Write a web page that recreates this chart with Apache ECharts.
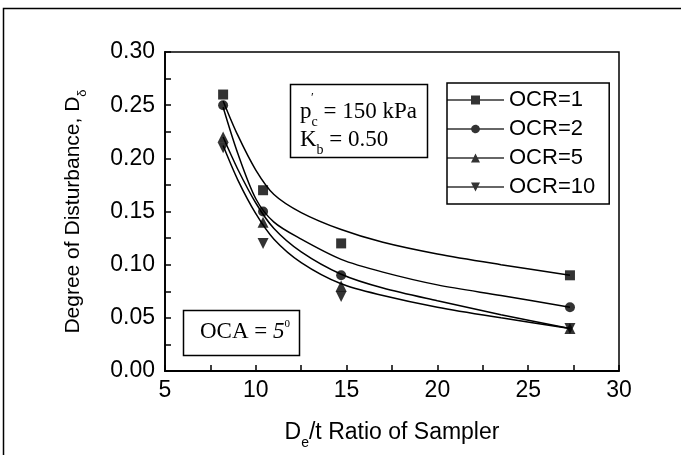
<!DOCTYPE html>
<html>
<head>
<meta charset="utf-8">
<script src="https://cdn.jsdelivr.net/npm/echarts@6/dist/echarts.min.js"></script>
<style>html,body{margin:0;padding:0;background:#fff}#c{width:681px;height:455px}</style>
</head>
<body>
<div id="c"></div>
<script>
// Measured points (x = De/t ratio)
const xValues = [8.2, 10.4, 14.7, 27.3];
const ocr1Values = [0.26, 0.17, 0.12, 0.09];
const ocr2Values = [0.25, 0.15, 0.09, 0.06];
const ocr5Values = [0.22, 0.14, 0.08, 0.04];
const ocr10Values = [0.21, 0.12, 0.07, 0.04];
const seriesNames = ['OCR=1', 'OCR=2', 'OCR=5', 'OCR=10'];
// Fitted curves
const fitX = [8.2, 9.0, 10.0, 11.0, 12.5, 14.7, 17, 20, 23.5, 27.3];
const fit1 = [0.254, 0.222, 0.189, 0.166, 0.149, 0.133, 0.121, 0.110, 0.100, 0.090];
const fit2 = [0.248, 0.205, 0.162, 0.140, 0.124, 0.105, 0.093, 0.081, 0.071, 0.060];
const fit5 = [0.220, 0.190, 0.158, 0.134, 0.112, 0.091, 0.078, 0.066, 0.053, 0.040];
const fit10 = [0.212, 0.180, 0.148, 0.124, 0.102, 0.082, 0.071, 0.060, 0.050, 0.040];
const xTicks = [5, 10, 15, 20, 25, 30];
const yTicks = [0, 0.05, 0.10, 0.15, 0.20, 0.25, 0.30];

const pts = vals => xValues.map((x, i) => [x, vals[i]]);
const fit = vals => fitX.map((x, i) => [x, vals[i]]);
const symbols = ['rect', 'circle', 'triangle', 'triangle'];
const rotates = [0, 0, 0, 180];
const sizes = [10, 10, 11, 11];
const allPts = [ocr1Values, ocr2Values, ocr5Values, ocr10Values];
const allFits = [fit1, fit2, fit5, fit10];
const icons = [
  'path://M0,3.8L24,3.8L24,0L33,0L33,3.8L57,3.8L57,5.2L33,5.2L33,9L24,9L24,5.2L0,5.2Z',
  'path://M0,3.8L24.1,3.8A4.5,4.5,0,0,1,32.9,3.8L57,3.8L57,5.2L32.9,5.2A4.5,4.5,0,0,1,24.1,5.2L0,5.2Z',
  'path://M0,3.8L26.6,3.8L28.5,0L30.4,3.8L57,3.8L57,5.2L31.1,5.2L33,9L24,9L25.9,5.2L0,5.2Z',
  'path://M0,3.8L25.9,3.8L24,0L33,0L31.1,3.8L57,3.8L57,5.2L30.4,5.2L28.5,9L26.6,5.2L0,5.2Z'
];

const series = [];
allFits.forEach((f, i) => {
  series.push({
    name: 'fit ' + seriesNames[i], type: 'line', data: fit(f), smooth: 0.3,
    showSymbol: false, silent: true, lineStyle: { color: '#000', width: 1.5 }, z: 2
  });
});
allPts.forEach((v, i) => {
  series.push({
    name: seriesNames[i], type: 'scatter', data: pts(v), symbol: symbols[i],
    symbolRotate: rotates[i], symbolSize: sizes[i], itemStyle: { color: '#000' }, z: 3
  });
});

const sans = 'Liberation Sans, Arial, sans-serif';
const serif = 'Liberation Serif, Times New Roman, serif';

const chart = echarts.init(document.getElementById('c'), null, { renderer: 'canvas' });
chart.setOption({
  backgroundColor: '#fff',
  animation: false,
  grid: { left: 165, right: 62, top: 52, bottom: 80, show: true, borderColor: '#000', borderWidth: 1.5, backgroundColor: 'transparent' },
  xAxis: {
    type: 'value', min: xTicks[0], max: xTicks[xTicks.length - 1], interval: 5,
    axisLine: { lineStyle: { color: '#000', width: 1.8 } },
    axisTick: { inside: true, length: 6, lineStyle: { color: '#000', width: 1.5 } },
    minorTick: { show: true, splitNumber: 2, length: 6, lineStyle: { color: '#000', width: 1.5 } },
    splitLine: { show: false },
    axisLabel: { color: '#000', fontSize: 23, fontFamily: sans, margin: 8 },
    name: '{n|D}{s|e}{n|/t Ratio of Sampler}', nameLocation: 'middle', nameGap: 45,
    nameTextStyle: {
      color: '#000', fontFamily: sans, fontSize: 23,
      rich: {
        n: { fontSize: 23, fontFamily: sans, color: '#000', lineHeight: 26 },
        s: { fontSize: 14, fontFamily: sans, color: '#000', verticalAlign: 'bottom', lineHeight: 34 }
      }
    }
  },
  yAxis: {
    type: 'value', min: yTicks[0], max: yTicks[yTicks.length - 1], interval: 0.05,
    axisLine: { show: true, lineStyle: { color: '#000', width: 1.8 } },
    axisTick: { show: true, inside: true, length: 6, lineStyle: { color: '#000', width: 1.5 } },
    minorTick: { show: true, splitNumber: 2, length: 6, lineStyle: { color: '#000', width: 1.5 } },
    splitLine: { show: false },
    axisLabel: { color: '#000', fontSize: 23, fontFamily: sans, margin: 10, formatter: v => v.toFixed(2) },
    name: '{n|Degree of Disturbance, D}{s|δ}', nameLocation: 'middle', nameGap: 76, nameRotate: 90,
    nameTextStyle: {
      color: '#000', fontFamily: sans, fontSize: 21,
      rich: {
        n: { fontSize: 21, fontFamily: sans, color: '#000', lineHeight: 24 },
        s: { fontSize: 13, fontFamily: sans, color: '#000', verticalAlign: 'bottom', lineHeight: 32 }
      }
    }
  },
  legend: {
    orient: 'vertical', left: 447, top: 83,
    data: seriesNames.map((n, i) => ({ name: n, icon: icons[i] })),
    itemWidth: 57, itemHeight: 9, itemGap: 7,
    padding: [6, 14, 6, 0],
    borderColor: '#000', borderWidth: 1.5, backgroundColor: '#fff',
    textStyle: { color: '#000', fontSize: 22, fontFamily: sans },
    itemStyle: { color: '#000' },
    selectedMode: false
  },
  graphic: [
    { type: 'rect', shape: { x: 3.5, y: 8.5, width: 720, height: 500 }, style: { fill: 'none', stroke: '#000', lineWidth: 1.5 }, silent: true },
    { type: 'rect', shape: { x: 290.5, y: 84.5, width: 137, height: 73 }, style: { fill: '#fff', stroke: '#000', lineWidth: 1.5 }, z: 10 },
    { type: 'text', x: 300, y: 95, z: 11, style: {
        text: '{n|p}{s|c}{n| = 150 kPa}', fill: '#000',
        rich: { n: { fontSize: 23, fontFamily: serif, fill: '#000', lineHeight: 26 }, s: { fontSize: 14, fontFamily: serif, fill: '#000', verticalAlign: 'bottom', lineHeight: 34 } }
      } },
    { type: 'text', x: 311, y: 91, z: 11, style: { text: '\u2032', fontSize: 13, fontFamily: serif, fill: '#000' } },
    { type: 'text', x: 300, y: 123, z: 11, style: {
        text: '{n|K}{s|b}{n| = 0.50}', fill: '#000',
        rich: { n: { fontSize: 23, fontFamily: serif, fill: '#000', lineHeight: 26 }, s: { fontSize: 14, fontFamily: serif, fill: '#000', verticalAlign: 'bottom', lineHeight: 34 } }
      } },
    { type: 'rect', shape: { x: 183.5, y: 310.5, width: 116, height: 45 }, style: { fill: '#fff', stroke: '#000', lineWidth: 1.5 }, z: 10 },
    { type: 'text', x: 200, y: 319, z: 11, style: {
        text: '{n|OCA = }{i|5}{p|0}', fill: '#000',
        rich: { n: { fontSize: 23, fontFamily: serif, fill: '#000', lineHeight: 26 }, i: { fontSize: 23, fontFamily: serif, fontStyle: 'italic', fill: '#000', lineHeight: 26 }, p: { fontSize: 11, fontFamily: serif, fill: '#000', verticalAlign: 'top', lineHeight: 26 } }
      } }
  ],
  series: series
});
</script>
</body>
</html>
